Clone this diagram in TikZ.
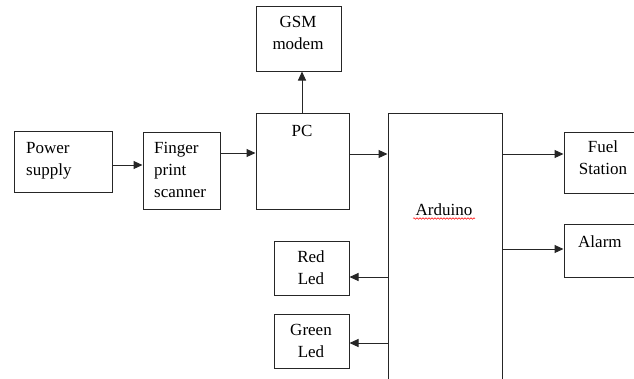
\documentclass[tikz,border=0pt]{standalone}
\usepackage{fontspec}
\setmainfont{Liberation Serif}
\usetikzlibrary{arrows.meta,decorations.pathmorphing}
\begin{document}
\begin{tikzpicture}[x=1pt,y=-1pt,
  blk/.style={draw=black!85,line width=1pt,inner sep=0pt},
  txt/.style={font=\fontsize{17}{22}\selectfont,inner sep=0pt,anchor=base},
  conn/.style={draw=black!85,line width=1pt,-{Triangle[length=9pt,width=8pt]}}]
\clip (0,0) rectangle (634,378);
% boxes
\node[blk,minimum width=98pt,minimum height=61pt] (pw) at (63,161.5) {};
\node[blk,minimum width=77pt,minimum height=77pt] (fp) at (181.5,170.5) {};
\node[blk,minimum width=93pt,minimum height=96pt] (pc) at (302.5,161) {};
\node[blk,minimum width=85pt,minimum height=65pt] (gsm) at (298.5,38.5) {};
\node[blk,minimum width=114pt,minimum height=287pt] (ard) at (445,256.5) {};
\node[blk,minimum width=90pt,minimum height=61pt] (fuel) at (609,162.5) {};
\node[blk,minimum width=90pt,minimum height=53pt] (alarm) at (609,250.5) {};
\node[blk,minimum width=75pt,minimum height=54pt] (red) at (311.5,268) {};
\node[blk,minimum width=75pt,minimum height=54pt] (green) at (311.5,341) {};
% texts
\node[txt,anchor=base west] (tpw1) at (26,153) {Power};
\node[txt,anchor=base west] (tpw2) at (26,175) {supply};
\node[txt,anchor=base west] (tfp1) at (154,153) {Finger};
\node[txt,anchor=base west] (tfp2) at (154,175) {print};
\node[txt,anchor=base west] (tfp3) at (154,197) {scanner};
\node[txt] (tpc) at (302,136) {PC};
\node[txt] (tgsm1) at (298,27) {GSM};
\node[txt] (tgsm2) at (298,49) {modem};
\node[txt] (tard) at (444,215) {Arduino};
\node[txt] (tfuel1) at (603,152) {Fuel};
\node[txt] (tfuel2) at (603,174) {Station};
\node[txt,anchor=base west] (talarm) at (578,247) {Alarm};
\node[txt] (tred1) at (311,262) {Red};
\node[txt] (tred2) at (311,284) {Led};
\node[txt] (tgreen1) at (311,335) {Green};
\node[txt] (tgreen2) at (311,357) {Led};
% spell-check underline
\coordinate (ul1) at (413,218.5);
\coordinate (ul2) at (475,218.5);
\draw[red,line width=0.5pt,decorate,decoration={snake,segment length=3pt,amplitude=0.8pt}] (ul1) -- (ul2);
% connectors
\draw[conn] (pw.east |- 0,165) -- (fp.west |- 0,165);
\draw[conn] (fp.east |- 0,153) -- (pc.west |- 0,153);
\draw[conn] (pc.north -| 302,0) -- (gsm.south -| 302,0);
\draw[conn] (pc.east |- 0,154) -- (ard.west |- 0,154);
\draw[conn] (ard.east |- 0,154) -- (fuel.west |- 0,154);
\draw[conn] (ard.east |- 0,249) -- (alarm.west |- 0,249);
\draw[conn] (ard.west |- 0,277) -- (red.east |- 0,277);
\draw[conn] (ard.west |- 0,343) -- (green.east |- 0,343);
\end{tikzpicture}
\end{document}
